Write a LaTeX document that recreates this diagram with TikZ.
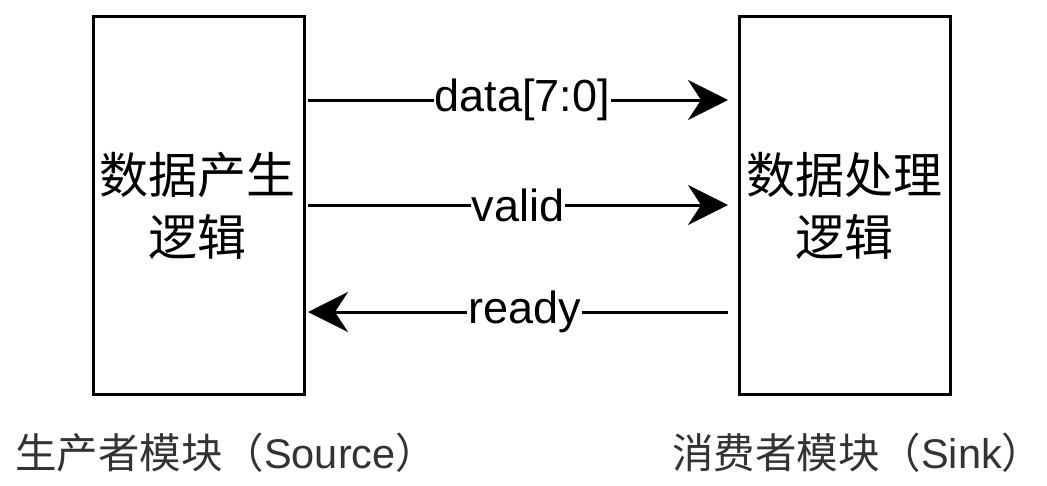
\documentclass[tikz,border=0pt]{standalone}
\usepackage{fontspec}
\setmainfont{Liberation Sans}
\newfontfamily\cjk{Noto Sans CJK SC}
\usetikzlibrary{arrows.meta}
\definecolor{captiongray}{HTML}{333333}
\tikzset{
  block/.style={draw=black, line width=3pt, minimum width=211pt, minimum height=378pt, inner sep=0pt, anchor=north west},
  blocktext/.style={font=\cjk\fontsize{49}{62}\selectfont, align=center, text=black},
  sig/.style={line width=3pt, -{Stealth[length=40pt, width=40pt, inset=13pt]}},
  siglabel/.style={fill=white, inner sep=1pt, font=\fontsize{45}{50}\selectfont, text=black},
  caption/.style={font=\fontsize{41.5}{44}\selectfont, text=captiongray, anchor=west, inner sep=0pt}
}
\begin{document}
\begin{tikzpicture}[x=1pt,y=-1pt]
\useasboundingbox (0,0) rectangle (1047,485);
\node[block] (src) at (92,15) {};
\node[block] (snk) at (738,15) {};
\node[blocktext] (srct) at (197.5,206) {数据产生\\逻辑};
\node[blocktext] (snkt) at (844,206) {数据处理\\逻辑};
\coordinate (d1) at (308,100);
\coordinate (d2) at (728,100);
\coordinate (v1) at (308,205);
\coordinate (v2) at (728,205);
\coordinate (r1) at (728,312);
\coordinate (r2) at (308,312);
\draw[sig] (d1) -- node[siglabel, pos=0.51] (dl) {data[7:0]} (d2);
\draw[sig] (v1) -- node[siglabel, pos=0.5] (vl) {valid} (v2);
\draw[sig] (r1) -- node[siglabel, pos=0.485] (rl) {ready} (r2);
\node[caption] (cs) at (15,453) {{\cjk 生产者模块（}Source{\cjk ）}};
\node[caption] (ck) at (672,453) {{\cjk 消费者模块（}Sink{\cjk ）}};
\end{tikzpicture}
\end{document}
